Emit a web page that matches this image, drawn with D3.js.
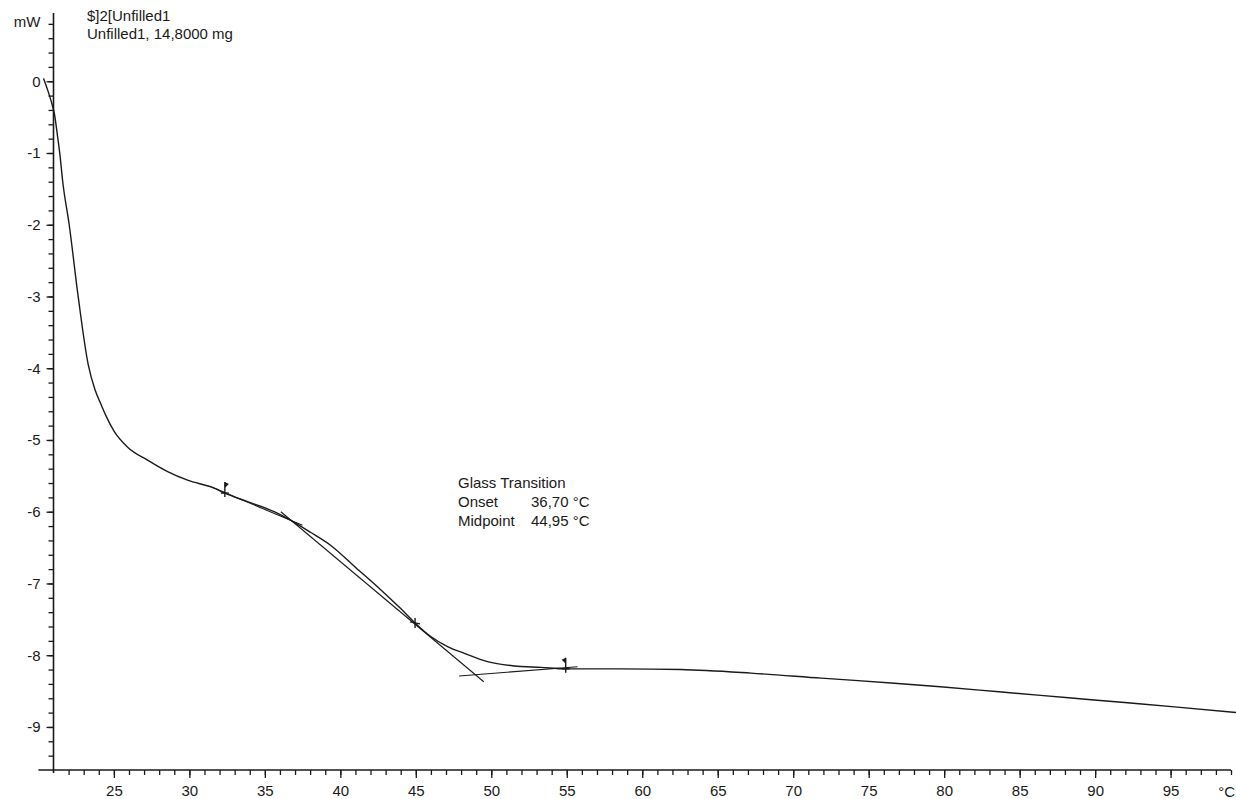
<!DOCTYPE html>
<html>
<head>
<meta charset="utf-8">
<script src="https://cdn.jsdelivr.net/npm/d3@7"></script>
<style>
  body { margin: 0; background: #fff; }
  text { font-family: "Liberation Sans", Arial, sans-serif; fill: #1a1a1a; }
</style>
</head>
<body>
<div id="chart"></div>
<script>
// DSC curve: temperature (°C) and heat flow (mW)
const tempC = [20.34, 20.61, 20.89, 21.05, 21.27, 21.44, 21.60, 22.04, 22.64, 23.30, 23.75, 24.14, 24.47,
  25.02, 25.91, 27.23, 28.56, 29.88, 31.64, 32.35, 33.85, 35.62, 36.72, 38.05, 39.37, 41.03, 42.69,
  44.00, 44.95, 45.99, 47.10, 48.18, 49.75, 51.51, 53.28, 54.93, 58.58, 62.55, 67.20, 71.86, 76.71,
  79.75, 83.63, 86.39, 89.17, 91.95, 95.26, 99.37]
const heatFlow = [0.04, -0.12, -0.31, -0.44, -0.77, -1.05, -1.38, -2.00, -3.01, -3.95, -4.30, -4.50, -4.66,
  -4.88, -5.10, -5.28, -5.44, -5.56, -5.67, -5.74, -5.86, -6.00, -6.12, -6.29, -6.47, -6.78, -7.09,
  -7.35, -7.55, -7.74, -7.88, -7.97, -8.09, -8.15, -8.17, -8.19, -8.19, -8.20, -8.25, -8.32, -8.39,
  -8.44, -8.51, -8.56, -8.61, -8.66, -8.72, -8.80]

// evaluation tangents [T1, v1, T2, v2]
const baselineBefore = [31.52, -5.66, 37.49, -6.19]
const inflectionTangent = [36.06, -6.00, 49.50, -8.37]
const baselineAfter = [47.87, -8.29, 55.71, -8.16]

// limits and midpoint
const limitT = [32.35, 54.93]
const limitV = [-5.74, -8.19]
const limitSide = [1, -1]
const midT = 44.95
const midV = -7.55

const xMajor = [25, 30, 35, 40, 45, 50, 55, 60, 65, 70, 75, 80, 85, 90, 95]
const xMinor = d3.range(22, 100, 1)
const yMajor = [0, -1, -2, -3, -4, -5, -6, -7, -8, -9]
const yMinor = d3.range(-47, 5, 1).map(d => d / 5)

const headerLines = ['$]2[Unfilled1', 'Unfilled1, 14,8000 mg']
const resultLabels = ['Glass Transition', 'Onset', 'Midpoint']
const resultValues = ['', '36,70 °C', '44,95 °C']

const width = 1236, height = 799

const svg = d3.select('#chart')
  .append('svg')
  .attr('width', width)
  .attr('height', height)

const x = d3.scaleLinear().domain([21, 99]).range([53.5, 1231])
const y = d3.scaleLinear().domain([-9.6, 0]).range([770, 81.25])

// axis lines
svg.append('line')
  .attr('x1', x(21)).attr('x2', x(21))
  .attr('y1', y(0.95)).attr('y2', y(-9.6) + 3)
  .style('stroke', '#1a1a1a').style('stroke-width', '1.6px')
svg.append('line')
  .attr('x1', x(20)).attr('x2', x(99))
  .attr('y1', y(-9.6)).attr('y2', y(-9.6))
  .style('stroke', '#1a1a1a').style('stroke-width', '1.6px')

const yMinorAxis = svg.append('g')
  .attr('transform', `translate(${x(21)},0)`)
  .call(d3.axisLeft(y).tickValues(yMinor).tickSize(5).tickFormat(''))
const yMajorAxis = svg.append('g')
  .attr('transform', `translate(${x(21)},0)`)
  .call(d3.axisLeft(y).tickValues(yMajor).tickSize(7).tickPadding(6).tickFormat(d => d))

const xMinorAxis = svg.append('g')
  .attr('transform', `translate(0,${y(-9.6)})`)
  .call(d3.axisBottom(x).tickValues(xMinor).tickSize(5).tickFormat(''))
const xMajorAxis = svg.append('g')
  .attr('transform', `translate(0,${y(-9.6)})`)
  .call(d3.axisBottom(x).tickValues(xMajor).tickSize(8).tickPadding(7))

svg.selectAll('.domain').remove()
svg.selectAll('.tick line').style('stroke', '#1a1a1a').style('stroke-width', '1.3px')
svg.selectAll('.tick text')
  .attr('font-family', '"Liberation Sans", Arial, sans-serif')
  .attr('font-size', '15px')
  .attr('fill', '#1a1a1a')

// units
svg.append('text')
  .attr('x', x(21) - 13).attr('y', y(0.8) - 2)
  .attr('dy', '0.32em')
  .attr('text-anchor', 'end')
  .attr('font-size', '15px')
  .text('mW')
svg.append('text')
  .attr('x', 1235).attr('y', y(-9.6) + 27)
  .attr('text-anchor', 'end')
  .attr('font-size', '15px')
  .text('°C')

// header
svg.selectAll('.header')
  .data(headerLines)
  .join('text')
  .attr('class', 'header')
  .attr('x', 87)
  .attr('y', (d, i) => 21 + i * 18)
  .attr('font-size', '15px')
  .text(d => d)

// curve
const curveData = tempC.map((t, i) => [t, heatFlow[i]])
const line = d3.line()
  .x(d => x(d[0]))
  .y(d => y(d[1]))
  .curve(d3.curveMonotoneX)

svg.append('path')
  .datum(curveData)
  .attr('d', line)
  .attr('fill', 'none')
  .style('stroke', '#1a1a1a')
  .style('stroke-width', '1.4px')

// tangents
const tangents = [baselineBefore, inflectionTangent, baselineAfter]
svg.selectAll('.tangent')
  .data(tangents)
  .join('line')
  .attr('class', 'tangent')
  .attr('x1', d => x(d[0])).attr('y1', d => y(d[1]))
  .attr('x2', d => x(d[2])).attr('y2', d => y(d[3]))
  .style('stroke', '#1a1a1a')
  .style('stroke-width', '1.1px')

// limit markers with little flags
limitT.forEach((t, i) => {
  const cx = x(t), cy = y(limitV[i]), s = limitSide[i]
  svg.append('line')
    .attr('x1', cx - 4).attr('x2', cx + 4)
    .attr('y1', cy).attr('y2', cy)
    .style('stroke', '#1a1a1a').style('stroke-width', '1.4px')
  svg.append('line')
    .attr('x1', cx).attr('x2', cx)
    .attr('y1', cy - 11).attr('y2', cy + 4)
    .style('stroke', '#1a1a1a').style('stroke-width', '1.4px')
  svg.append('path')
    .attr('d', `M${cx},${cy - 11} L${cx + 4 * s},${cy - 9} L${cx},${cy - 5} Z`)
    .attr('fill', '#1a1a1a')
})

// midpoint cross
svg.append('path')
  .attr('d', `M${x(midT) - 5},${y(midV) - 1} L${x(midT) + 5},${y(midV) + 1} M${x(midT)},${y(midV) - 5} L${x(midT)},${y(midV) + 5}`)
  .attr('fill', 'none')
  .style('stroke', '#1a1a1a')
  .style('stroke-width', '1.4px')

// results
svg.selectAll('.result-label')
  .data(resultLabels)
  .join('text')
  .attr('class', 'result-label')
  .attr('x', 458)
  .attr('y', (d, i) => 488 + i * 19)
  .attr('font-size', '15px')
  .text(d => d)
svg.selectAll('.result-value')
  .data(resultValues)
  .join('text')
  .attr('class', 'result-value')
  .attr('x', 531)
  .attr('y', (d, i) => 488 + i * 19)
  .attr('font-size', '15px')
  .text(d => d)
</script>
</body>
</html>
